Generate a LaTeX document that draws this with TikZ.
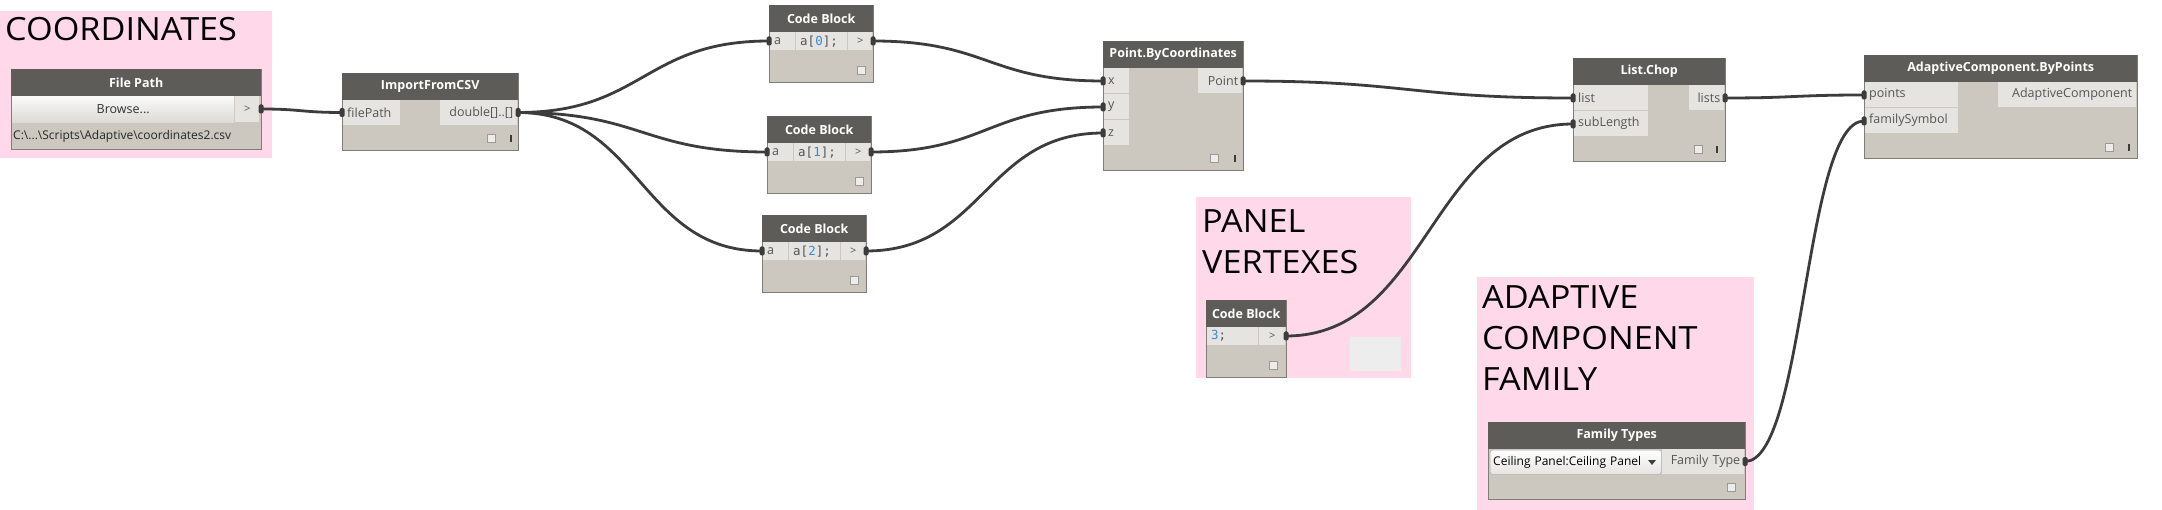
\documentclass[tikz,border=0pt]{standalone}
\usepackage{fontspec}
\setmainfont{Open Sans}
\setmonofont{DejaVu Sans Mono}
\newfontfamily\titlefont{Open Sans}[FakeStretch=1.07]
\definecolor{grouppink}{RGB}{255,217,234}
\definecolor{headgray}{RGB}{94,92,88}
\definecolor{bodygray}{RGB}{204,200,192}
\definecolor{portgray}{RGB}{229,228,224}
\definecolor{edgegray}{RGB}{128,125,119}
\definecolor{textgray}{RGB}{85,85,85}
\definecolor{wiregray}{RGB}{60,60,60}
\definecolor{codeblue}{RGB}{52,140,220}
\begin{document}
\begin{tikzpicture}[x=1pt,y=-1pt,
  group/.style={anchor=north west,inner sep=0pt,fill=grouppink},
  title/.style={anchor=north west,inner sep=0pt,align=left,font=\titlefont\fontsize{32}{41}\selectfont},
  nodebody/.style={anchor=north west,inner sep=0pt,fill=bodygray,draw=edgegray,line width=0.8pt},
  header/.style={anchor=north west,inner sep=0pt,fill=headgray,text=white,minimum height=27pt,font=\fontsize{12.5}{15}\selectfont\bfseries},
  inbox/.style={anchor=north west,inner ysep=0pt,inner xsep=4pt,fill=portgray,text=textgray,minimum height=25pt,align=left,font=\fontsize{12.5}{15}\selectfont},
  outbox/.style={inbox,align=right},
  codebox/.style={inbox,minimum height=18pt,font=\ttfamily\fontsize{12.5}{15}\selectfont},
  arrowbox/.style={anchor=north west,inner sep=0pt,fill=portgray,text=textgray,font=\fontsize{11}{13}\selectfont},
  pin/.style={inner sep=0pt,minimum width=5pt,minimum height=9pt,rounded corners=1.5pt,fill=wiregray},
  preview/.style={inner sep=0pt,minimum size=8pt,draw=gray!80,fill=portgray!70},
  wire/.style={draw=wiregray,line width=2.8pt}]

  \useasboundingbox (0,0) rectangle (2162,510);
  \fill[white] (0,0) rectangle (2162,510);

  %draw groups
  \node[group,minimum width=272pt,minimum height=147pt] (coordgroup) at (0,11) {};
  \node[group,minimum width=215pt,minimum height=181pt] (panelgroup) at (1196,197) {};
  \node[group,minimum width=277pt,minimum height=233pt] (familygroup) at (1477,277) {};
  \node[title] (coordtitle) at (5,17) {COORDINATES};
  \node[title] (paneltitle) at (1202,209) {PANEL\\VERTEXES};
  \node[title] (familytitle) at (1482,285) {ADAPTIVE\\COMPONENT\\FAMILY};

  %draw file path
  \node[nodebody,minimum width=250pt,minimum height=80pt] (filepath) at (11,69) {};
  \node[header,minimum width=250pt] (filepathhead) at (11,69) {File Path};
  \node[anchor=north west,inner sep=0pt,minimum width=222pt,minimum height=26pt,top color=white!96!gray,bottom color=portgray!90!gray,font=\fontsize{12.5}{15}\selectfont,text=black!80] (browse) at (12,96) {Browse...};
  \node[arrowbox,minimum width=24pt,minimum height=26pt] (browseout) at (235,96) {>};
  \node[anchor=west,inner sep=0pt,text=black!85,font=\fontsize{12}{14}\selectfont] (pathtext) at (13,136) {C:\textbackslash...\textbackslash Scripts\textbackslash Adaptive\textbackslash coordinates2.csv};

  %draw import
  \node[nodebody,minimum width=176pt,minimum height=77pt] (import) at (342,73) {};
  \node[header,minimum width=176pt] (importhead) at (342,73) {ImportFromCSV};
  \node[inbox,text width=49pt] (importin) at (343,100) {filePath};
  \node[outbox,text width=69pt] (importout) at (440,100) {double[]..[]};
  \node[preview] (importprev) at (491,138) {};
  \draw[wiregray,line width=1.2pt] (511,135) -- (511,142);

  %draw code blocks
  \foreach \cx/\cy/\ci in {769/5/0,767/116/1,762/215/2} {
    \node[nodebody,minimum width=104pt,minimum height=77pt] (cb\ci) at (\cx,\cy) {};
    \node[header,minimum width=104pt] (cb\ci head) at (\cx,\cy) {Code Block};
    \node[inbox,minimum height=18pt,text width=17pt] (cb\ci in) at (\cx+1,\cy+27) {a};
    \node[codebox,text width=43pt] (cb\ci code) at (\cx+27,\cy+27) {a[{\color{codeblue}\ci}];};
    \node[arrowbox,minimum width=24pt,minimum height=18pt] (cb\ci out) at (\cx+79,\cy+27) {>};
    \node[preview] (cb\ci prev) at (\cx+92,\cy+65) {};
  }

  %draw point
  \node[nodebody,minimum width=140pt,minimum height=129pt] (point) at (1103,41) {};
  \node[header,minimum width=140pt] (pointhead) at (1103,41) {Point.ByCoordinates};
  \node[inbox,text width=17pt] (pointx) at (1104,68) {x};
  \node[inbox,text width=17pt] (pointy) at (1104,94) {y};
  \node[inbox,text width=17pt] (pointz) at (1104,120) {z};
  \node[outbox,text width=36pt] (pointout) at (1198,68) {Point};
  \node[preview] (pointprev) at (1214,158) {};
  \draw[wiregray,line width=1.2pt] (1235,155) -- (1235,162);

  %draw number block
  \node[nodebody,minimum width=80pt,minimum height=77pt] (three) at (1206,300) {};
  \node[header,minimum width=80pt] (threehead) at (1206,300) {Code Block};
  \node[codebox,text width=43pt] (threecode) at (1207,327) {{\color{codeblue}3};};
  \node[arrowbox,minimum width=26pt,minimum height=18pt] (threeout) at (1259,327) {>};
  \node[preview] (threeprev) at (1273,365) {};
  \node[anchor=north west,inner sep=0pt,minimum width=51pt,minimum height=34pt,fill=black!7] (note) at (1350,337) {};

  %draw list chop
  \node[nodebody,minimum width=152pt,minimum height=103pt] (chop) at (1573,58) {};
  \node[header,minimum width=152pt] (chophead) at (1573,58) {List.Chop};
  \node[inbox,text width=66pt] (choplist) at (1574,85) {list};
  \node[inbox,text width=66pt] (choplen) at (1574,111) {subLength};
  \node[outbox,text width=27pt] (chopout) at (1689,85) {lists};
  \node[preview] (chopprev) at (1698,149) {};
  \draw[wiregray,line width=1.2pt] (1717,146) -- (1717,153);

  %draw family types
  \node[nodebody,minimum width=257pt,minimum height=77pt] (family) at (1488,422) {};
  \node[header,minimum width=257pt] (familyhead) at (1488,422) {Family Types};
  \node[anchor=north west,inner xsep=3pt,inner ysep=0pt,text width=165pt,minimum height=24pt,align=left,rounded corners=2pt,draw=gray!70,top color=white,bottom color=portgray,font=\fontsize{12}{14}\selectfont] (familydrop) at (1490,450) {Ceiling Panel:Ceiling Panel};
  \fill[black!75] (1648,460) -- (1656,460) -- (1652,465) -- cycle;
  \node[outbox,text width=74pt] (familyout) at (1662,449) {Family Type};
  \node[preview] (familyprev) at (1731,487) {};

  %draw adaptive component
  \node[nodebody,minimum width=273pt,minimum height=103pt] (adaptive) at (1864,55) {};
  \node[header,minimum width=273pt] (adaptivehead) at (1864,55) {AdaptiveComponent.ByPoints};
  \node[inbox,text width=85pt] (adaptpoints) at (1865,82) {points};
  \node[inbox,text width=85pt] (adaptsymbol) at (1865,108) {familySymbol};
  \node[outbox,text width=130pt] (adaptout) at (1998,82) {AdaptiveComponent};
  \node[preview] (adaptprev) at (2109,147) {};
  \draw[wiregray,line width=1.2pt] (2129,144) -- (2129,151);

  %draw ports
  \node[pin] (p1) at (261,109) {};
  \node[pin] (p2) at (342,112.5) {};
  \node[pin] (p3) at (518,112.5) {};
  \node[pin] (p4) at (769,41) {};
  \node[pin] (p5) at (767,152) {};
  \node[pin] (p6) at (762,251) {};
  \node[pin] (p7) at (873,41) {};
  \node[pin] (p8) at (871,152) {};
  \node[pin] (p9) at (866,251) {};
  \node[pin] (p10) at (1103,81) {};
  \node[pin] (p11) at (1103,107) {};
  \node[pin] (p12) at (1103,133) {};
  \node[pin] (p13) at (1243,81) {};
  \node[pin] (p14) at (1573,98) {};
  \node[pin] (p15) at (1573,124) {};
  \node[pin] (p16) at (1286,336) {};
  \node[pin] (p17) at (1725,98) {};
  \node[pin] (p18) at (1864,95) {};
  \node[pin] (p19) at (1864,121) {};
  \node[pin] (p20) at (1745,461.5) {};

  %draw wires
  \draw[wire] (p1.center) .. controls +(40,0) and +(-40,0) .. (p2.center);
  \draw[wire] (p3.center) .. controls +(125,0) and +(-125,0) .. (p4.center);
  \draw[wire] (p3.center) .. controls +(124,0) and +(-124,0) .. (p5.center);
  \draw[wire] (p3.center) .. controls +(122,0) and +(-122,0) .. (p6.center);
  \draw[wire] (p7.center) .. controls +(115,0) and +(-115,0) .. (p10.center);
  \draw[wire] (p8.center) .. controls +(116,0) and +(-116,0) .. (p11.center);
  \draw[wire] (p9.center) .. controls +(118,0) and +(-118,0) .. (p12.center);
  \draw[wire] (p13.center) .. controls +(165,0) and +(-165,0) .. (p14.center);
  \draw[wire] (p16.center) .. controls +(143,0) and +(-143,0) .. (p15.center);
  \draw[wire] (p17.center) .. controls +(70,0) and +(-70,0) .. (p18.center);
  \draw[wire] (p20.center) .. controls +(60,0) and +(-60,0) .. (p19.center);
\end{tikzpicture}
\end{document}
